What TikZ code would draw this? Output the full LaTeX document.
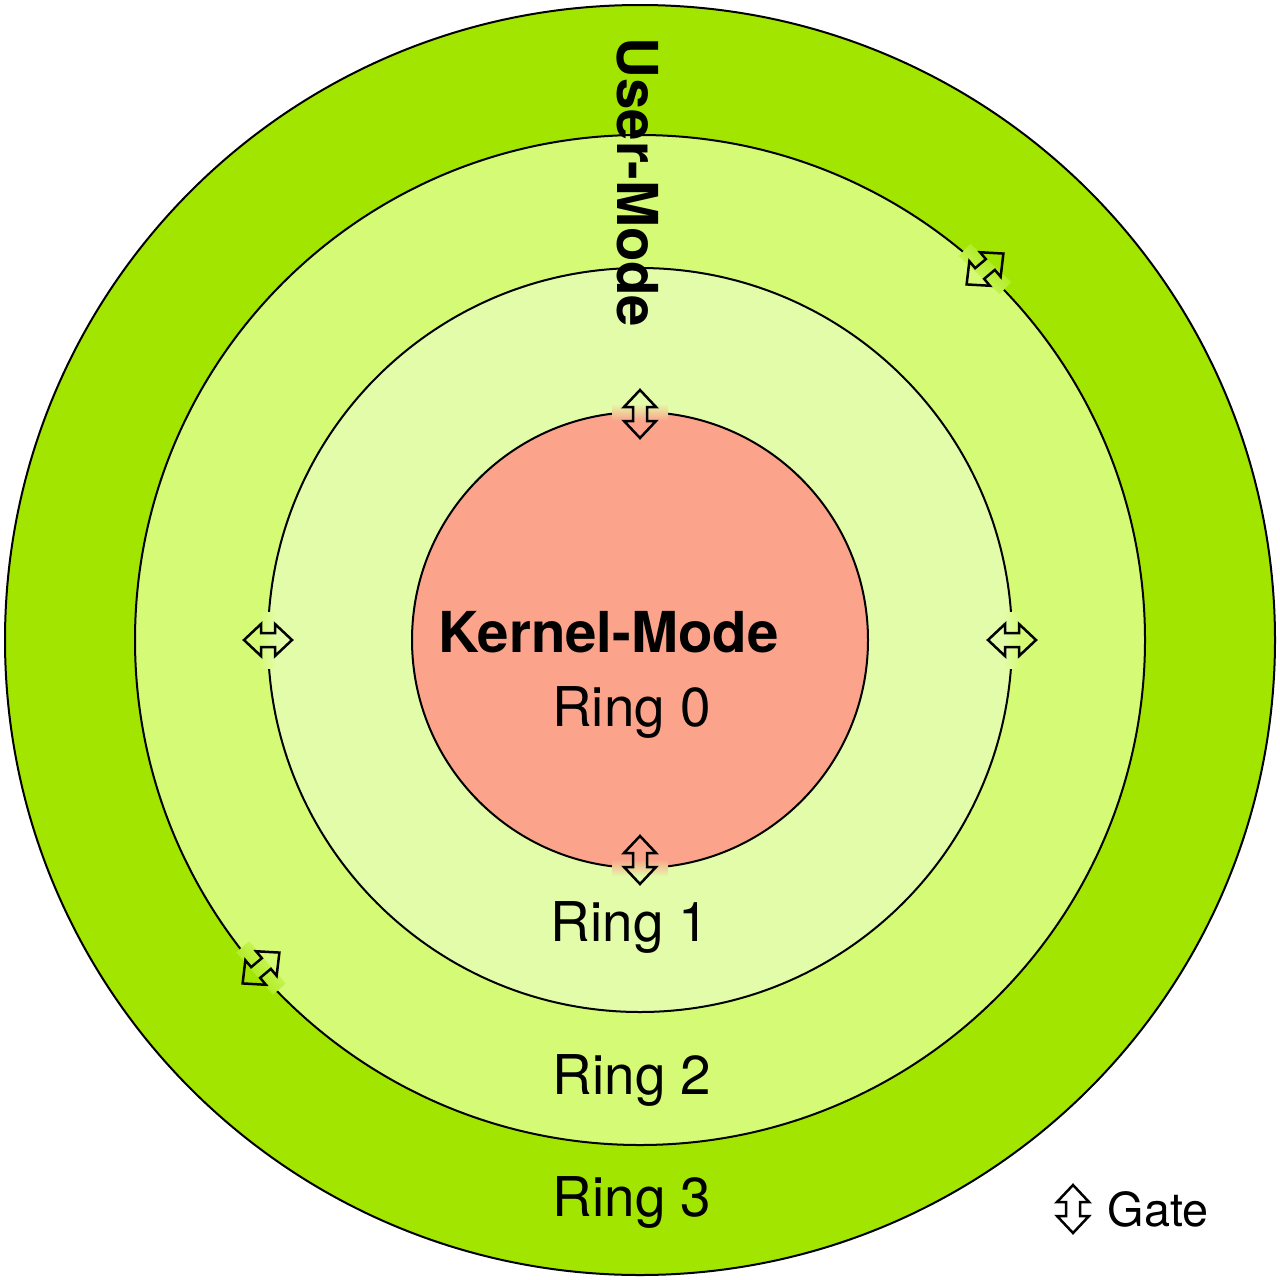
\documentclass[tikz,border=0pt]{standalone}
\usepackage{fontspec}
\setmainfont{TeX Gyre Heros}
\definecolor{rthree}{RGB}{161,229,0}
\definecolor{rtwo}{RGB}{213,251,118}
\definecolor{rone}{RGB}{227,252,170}
\definecolor{rzero}{RGB}{251,164,139}
\tikzset{
  ringcircle/.style={circle, draw=black, line width=1pt, inner sep=0pt},
  gateline/.style={draw=black, line width=1.25pt, line join=miter},
  ringlabel/.style={font=\fontsize{27.4}{31}\selectfont, anchor=base, inner sep=0pt},
  modelabel/.style={font=\fontsize{28.2}{32}\selectfont\bfseries, anchor=base, inner sep=0pt},
  legendlabel/.style={font=\fontsize{23.4}{27}\selectfont, anchor=base, inner sep=0pt},
  pics/gatearrow/.style={code={
    \draw[gateline] (0pt,12pt) -- (8pt,3.5pt) -- (3.5pt,3.5pt) -- (3.5pt,-3.5pt)
      -- (8pt,-3.5pt) -- (0pt,-12pt) -- (-8pt,-3.5pt) -- (-3.5pt,-3.5pt)
      -- (-3.5pt,3.5pt) -- (-8pt,3.5pt) -- cycle;}}
}
\begin{document}
\begin{tikzpicture}[x=0.5pt,y=-0.5pt]
\useasboundingbox (0,0) rectangle (1280,1280);
% rings
\node[ringcircle, fill=rthree, minimum size=635pt] (ring3) at (640,640) {};
\node[ringcircle, fill=rtwo, minimum size=505pt] (ring2) at (640,640) {};
\node[ringcircle, fill=rone, minimum size=372pt] (ring1) at (640,640) {};
\node[ringcircle, fill=rzero, minimum size=228pt] (ring0) at (640,640) {};
% gate patches
\shade[top color=rone, bottom color=rzero] (612,403.5) rectangle (668,420.5);
\shade[top color=rzero, bottom color=rone] (612,859.5) rectangle (668,876.5);
\shade[left color=rtwo, right color=rone] (259.5,612) rectangle (276.5,668);
\shade[left color=rone, right color=rtwo] (1003.5,612) rectangle (1020.5,668);
\shade[top color=rthree, bottom color=rtwo, shading angle=-43]
  [shift={(985,269)}, rotate=-43] (-28,-8.5) -- (28,-8.5) -- (28,8.5) -- (-28,8.5) -- cycle;
\shade[top color=rthree, bottom color=rtwo, shading angle=131]
  [shift={(261,968)}, rotate=-49] (-28,-8.5) -- (28,-8.5) -- (28,8.5) -- (-28,8.5) -- cycle;
% gates
\pic (gtop) at (640,414) {gatearrow};
\pic (gbot) at (640,860) {gatearrow};
\pic[rotate=90] (gleft) at (268,640) {gatearrow};
\pic[rotate=90] (gright) at (1012,640) {gatearrow};
\pic[rotate=-50] (gtr) at (985,269) {gatearrow};
\pic[rotate=-50] (gbl) at (261,968) {gatearrow};
% labels
\node[modelabel] (kmode) at (608.5,652) {Kernel-Mode};
\node[modelabel, rotate=-90] (umode) at (617,182.5) {User-Mode};
\node[ringlabel] (r0) at (631.5,726) {Ring 0};
\node[ringlabel] (r1) at (630,941) {Ring 1};
\node[ringlabel] (r2) at (632,1094) {Ring 2};
\node[ringlabel] (r3) at (632,1216) {Ring 3};
% legend
\pic (glegend) at (1073,1209) {gatearrow};
\node[legendlabel] (gatetext) at (1158,1226) {Gate};
\end{tikzpicture}
\end{document}
